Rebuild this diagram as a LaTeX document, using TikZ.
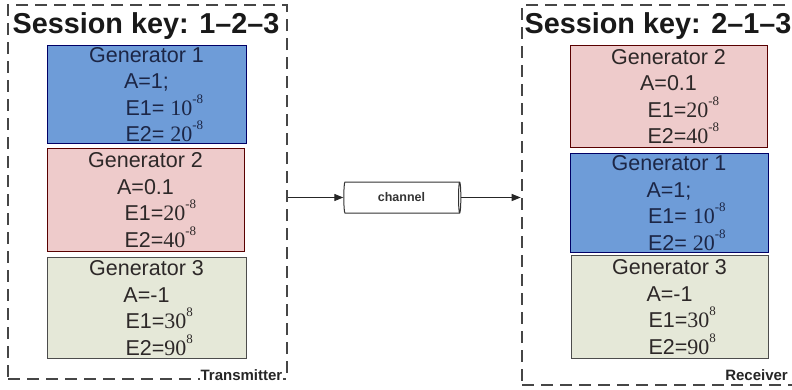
\documentclass[tikz,border=0pt]{standalone}
\usepackage{fontspec}
\setmainfont{Liberation Sans}
\newfontfamily\numfont{Liberation Serif}
\usetikzlibrary{shapes.geometric,arrows.meta}

\definecolor{gblue}{RGB}{110,156,216}
\definecolor{gpink}{RGB}{238,203,203}
\definecolor{ggreen}{RGB}{229,232,216}
\definecolor{navytxt}{RGB}{28,38,70}
\definecolor{darktxt}{RGB}{45,40,40}
\definecolor{dashgray}{RGB}{70,70,70}

\newcommand{\pw}[2]{{\numfont\fontsize{22}{22}\selectfont #1}\raisebox{0.55em}{\fontsize{13}{13}\selectfont\numfont #2}}
\newcommand{\eline}[1]{\makebox[42pt][l]{#1}}

\tikzset{
  container/.style={draw=dashgray, line width=2.6pt, dash pattern=on 12pt off 7pt, inner sep=0pt},
  genbox/.style={draw=#1, line width=1pt, inner sep=0pt},
  gentext/.style={inner sep=0pt, align=center, font=\fontsize{21.5}{26.5}\selectfont},
  titletext/.style={font=\fontsize{28.8}{31}\selectfont\bfseries, text=black!90, inner sep=0pt},
  roletext/.style={font=\fontsize{15}{17}\selectfont\bfseries, text=black!85, fill=white, inner xsep=1pt, inner ysep=1pt},
  arr/.style={draw=black!85, line width=1pt, -{Triangle[length=9pt,width=7pt]}},
}

\begin{document}
\begin{tikzpicture}[x=1pt,y=-1pt]
\fill[white] (0,0) rectangle (792,389);
\useasboundingbox (0,0) rectangle (792,389);

% containers
\node[container, minimum width=279pt, minimum height=374pt] (tx) at (147.5,192) {};
\node[container, minimum width=274pt, minimum height=380pt] (rx) at (659,195) {};

% titles
\node[titletext, anchor=base] (t1) at (146,33) {Session key: 1–2–3};
\node[titletext, anchor=base] (t2) at (658,33) {Session key: 2–1–3};

% transmitter boxes
\node[genbox=black!60!blue, fill=gblue, minimum width=199pt, minimum height=98pt] (g1l) at (146.5,94) {};
\node[genbox=black!65!red, fill=gpink, minimum width=197pt, minimum height=103pt] (g2l) at (145.5,199.5) {};
\node[genbox=black!70, fill=ggreen, minimum width=199pt, minimum height=101pt] (g3l) at (146.5,307.5) {};
\node[gentext, text=navytxt] (g1lt) at ([yshift=-0.5pt]g1l.center)
  {Generator 1\\A=1;\\\eline{E1= \pw{10}{-8}}\\\eline{E2= \pw{20}{-8}}};
\node[gentext, text=darktxt] (g2lt) at ([yshift=-0.5pt]g2l.center)
  {Generator 2\\A=0.1\\\eline{E1=\pw{20}{-8}}\\\eline{E2=\pw{40}{-8}}};
\node[gentext, text=darktxt] (g3lt) at ([yshift=-0.5pt]g3l.center)
  {Generator 3\\A=-1\\\eline{E1=\pw{30}{8}}\\\eline{E2=\pw{90}{8}}};

% receiver boxes
\node[genbox=black!65!red, fill=gpink, minimum width=197pt, minimum height=102pt] (g2r) at (668.5,96) {};
\node[genbox=black!60!blue, fill=gblue, minimum width=198pt, minimum height=99pt] (g1r) at (669,202.5) {};
\node[genbox=black!70, fill=ggreen, minimum width=197pt, minimum height=103pt] (g3r) at (669.5,306.5) {};
\node[gentext, text=darktxt] (g2rt) at ([yshift=-0.5pt]g2r.center)
  {Generator 2\\A=0.1\\\eline{E1=\pw{20}{-8}}\\\eline{E2=\pw{40}{-8}}};
\node[gentext, text=navytxt] (g1rt) at ([yshift=-0.5pt]g1r.center)
  {Generator 1\\A=1;\\\eline{E1= \pw{10}{-8}}\\\eline{E2= \pw{20}{-8}}};
\node[gentext, text=darktxt] (g3rt) at ([yshift=-0.5pt]g3r.center)
  {Generator 3\\A=-1\\\eline{E1=\pw{30}{8}}\\\eline{E2=\pw{90}{8}}};

% role labels
\node[roletext, anchor=base east] (lt) at (283.5,380) {Transmitter};
\node[roletext, anchor=base east] (lr) at (789,380) {Receiver};

% channel
\node[cylinder, draw=black!80, fill=white, line width=1pt, minimum width=31pt, minimum height=117pt,
  aspect=0.25, inner sep=0pt, font=\fontsize{12.5}{14}\selectfont\bfseries, text=black!80] (ch) at (401.5,197.5) {channel};

\draw[arr] (tx.east |- ch.west) -- (ch.west);
\draw[arr] (ch.east) -- (rx.west |- ch.east);
\end{tikzpicture}
\end{document}
